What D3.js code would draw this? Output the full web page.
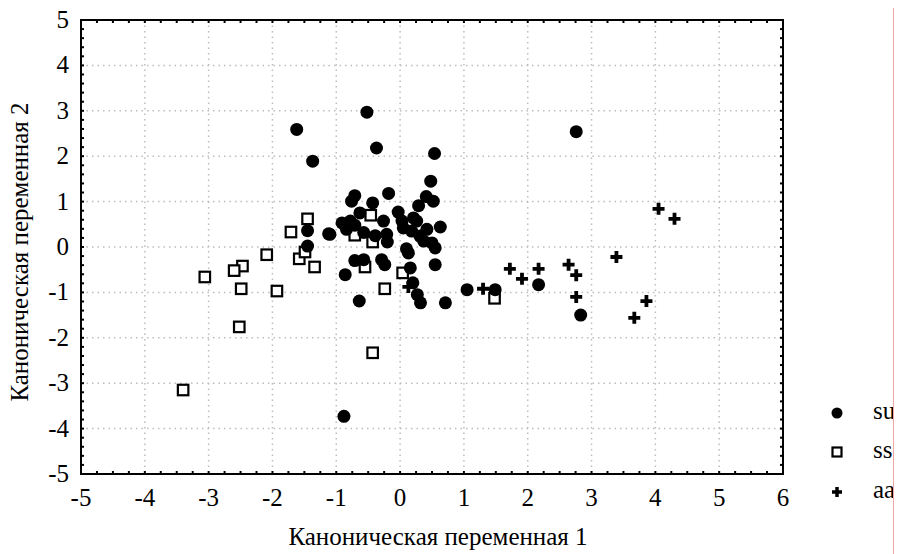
<!DOCTYPE html>
<html>
<head>
<meta charset="utf-8">
<script src="https://cdn.jsdelivr.net/npm/d3@7"></script>
<style>
  body { margin: 0; background: white; }
</style>
</head>
<body>
<script>
/* DATA */
var suX = [-1.62, -0.52, -0.37, -1.37, 0.54, 0.48, -0.18, -0.71, -0.76, -0.43, 0.41, 0.52, 0.29,
           -0.63, -0.03, -0.26, -0.91, -0.78, -1.10, -0.84, -0.39, -0.21, -0.20, 0.03, 0.21, 0.26,
           0.05, 0.18, 0.42, 0.63, 0.31, 0.37, 0.50, 0.55, 0.10, 0.13, -0.71, -0.57, -0.29, -0.24,
           -0.86, 0.16, 0.55, 0.20, -0.64, 0.27, 0.32, 0.71, 1.05, 1.49, -1.45, -1.12, -1.45,
           -0.88, 2.76, 2.17, 2.83, -0.71, -0.84, -0.57];
var suY = [2.59, 2.97, 2.18, 1.89, 2.06, 1.45, 1.18, 1.13, 1.01, 0.97, 1.11, 1.01, 0.91,
           0.75, 0.77, 0.57, 0.53, 0.57, 0.28, 0.39, 0.25, 0.28, 0.11, 0.57, 0.64, 0.57,
           0.42, 0.35, 0.39, 0.44, 0.24, 0.13, 0.09, -0.02, -0.04, -0.13, -0.30, -0.28, -0.28, -0.39,
           -0.61, -0.46, -0.39, -0.79, -1.19, -1.05, -1.23, -1.23, -0.94, -0.94, 0.36, 0.29, 0.02,
           -3.73, 2.54, -0.83, -1.50, 0.48, 0.46, 0.32];

var ssX = [-1.71, -2.09, -1.58, -2.47, -2.60, -3.06, -2.49, -1.93, -2.52, -3.40,
           -1.45, -1.49, -1.34, -0.46, -0.71, -0.43, -0.55, 0.04, -0.24, -0.43, 1.48];
var ssY = [0.33, -0.17, -0.26, -0.42, -0.52, -0.66, -0.92, -0.97, -1.76, -3.15,
           0.62, -0.11, -0.44, 0.70, 0.26, 0.11, -0.44, -0.57, -0.92, -2.33, -1.13];

var aaX = [0.13, 1.30, 1.72, 1.91, 2.17, 2.64, 2.76, 2.76, 3.39, 4.05, 4.30, 3.86, 3.67];
var aaY = [-0.88, -0.92, -0.48, -0.70, -0.48, -0.39, -0.62, -1.10, -0.22, 0.84, 0.62, -1.19, -1.56];

var xTicks = [-5, -4, -3, -2, -1, 0, 1, 2, 3, 4, 5, 6];
var yTicks = [-5, -4, -3, -2, -1, 0, 1, 2, 3, 4, 5];
var legendLabels = ['su', 'ss', 'aa'];
var xTitle = 'Каноническая переменная 1';
var yTitle = 'Каноническая переменная 2';

/* LAYOUT */
var width = 899, height = 554;
var plotLeft = 81, plotRight = 783, plotTop = 20, plotBottom = 474;
var fontFamily = 'Liberation Serif, Times New Roman, serif';
var tickSize = 25;
var titleSize = 25;

var x = d3.scaleLinear().domain([-5, 6]).range([plotLeft, plotRight]);
var y = d3.scaleLinear().domain([-5, 5]).range([plotBottom, plotTop]);

var svg = d3.select('body').append('svg')
    .attr('width', width)
    .attr('height', height)
    .attr('font-family', fontFamily);

svg.append('defs').append('clipPath')
    .attr('id', 'legendClip')
  .append('rect')
    .attr('x', 0).attr('y', 0)
    .attr('width', 893).attr('height', height);

// dotted grid
var grid = svg.append('g').attr('class', 'grid');
grid.selectAll('line.gx')
    .data(xTicks.slice(1, -1))
  .enter().append('line')
    .attr('x1', d => x(d)).attr('x2', d => x(d))
    .attr('y1', plotTop).attr('y2', plotBottom)
    .attr('stroke', '#bdbdbd').attr('stroke-width', 1.5)
    .attr('stroke-dasharray', '1.5,4');
grid.selectAll('line.gy')
    .data(yTicks.slice(1, -1))
  .enter().append('line')
    .attr('y1', d => y(d)).attr('y2', d => y(d))
    .attr('x1', plotLeft).attr('x2', plotRight)
    .attr('stroke', '#bdbdbd').attr('stroke-width', 1.5)
    .attr('stroke-dasharray', '1.5,4');

// inward ticks on all four sides (x minor step 0.25, y minor step 0.2)
var xMinor = d3.range(-5, 6.001, 0.25);
var yMinor = d3.range(-5, 5.001, 0.2);
var ticksG = svg.append('g').attr('stroke', 'black').attr('stroke-width', 2);
xMinor.forEach(function (v) {
  ticksG.append('line').attr('x1', x(v)).attr('x2', x(v)).attr('y1', plotBottom).attr('y2', plotBottom - 3);
  ticksG.append('line').attr('x1', x(v)).attr('x2', x(v)).attr('y1', plotTop).attr('y2', plotTop + 3);
});
yMinor.forEach(function (v) {
  ticksG.append('line').attr('y1', y(v)).attr('y2', y(v)).attr('x1', plotLeft).attr('x2', plotLeft + 3);
  ticksG.append('line').attr('y1', y(v)).attr('y2', y(v)).attr('x1', plotRight).attr('x2', plotRight - 3);
});

// frame
svg.append('rect')
    .attr('x', plotLeft).attr('y', plotTop)
    .attr('width', plotRight - plotLeft).attr('height', plotBottom - plotTop)
    .attr('fill', 'none').attr('stroke', 'black').attr('stroke-width', 2);

// tick labels
svg.append('g').selectAll('text')
    .data(xTicks)
  .enter().append('text')
    .attr('x', d => x(d))
    .attr('y', 506)
    .attr('text-anchor', 'middle')
    .attr('font-size', tickSize)
    .text(d => d);
svg.append('g').selectAll('text')
    .data(yTicks)
  .enter().append('text')
    .attr('x', 69)
    .attr('y', d => y(d) + 8)
    .attr('text-anchor', 'end')
    .attr('font-size', tickSize)
    .text(d => d);

// axis titles
svg.append('text')
    .attr('x', 438).attr('y', 545)
    .attr('text-anchor', 'middle')
    .attr('font-size', titleSize)
    .text(xTitle);
svg.append('text')
    .attr('transform', 'translate(28,' + 252 + ') rotate(-90)')
    .attr('text-anchor', 'middle')
    .attr('font-size', titleSize)
    .text(yTitle);

// marker helpers
var plusPath = s => `M${-s},0H${s}M0,${-s}V${s}`;

function drawCircle(g, cx, cy, r) {
  g.append('circle').attr('cx', cx).attr('cy', cy).attr('r', r).attr('fill', 'black');
}
function drawSquare(g, cx, cy, s) {
  g.append('rect').attr('x', cx - s / 2).attr('y', cy - s / 2)
      .attr('width', s).attr('height', s)
      .attr('fill', 'white').attr('stroke', 'black').attr('stroke-width', 2.2);
}
function drawPlus(g, cx, cy, s, w) {
  g.append('path').attr('d', plusPath(s)).attr('transform', `translate(${cx},${cy})`)
      .attr('fill', 'none').attr('stroke', 'black').attr('stroke-width', w);
}

var pts = svg.append('g').attr('class', 'points');
ssX.forEach((v, i) => drawSquare(pts, x(v), y(ssY[i]), 10.5));
suX.forEach((v, i) => drawCircle(pts, x(v), y(suY[i]), 6.5));
aaX.forEach((v, i) => drawPlus(pts, x(v), y(aaY[i]), 6, 3.8));

// legend (clipped at the right edge like the original)
var legend = svg.append('g').attr('clip-path', 'url(#legendClip)');
var legendY = [413, 452, 492];
drawCircle(legend, 837, legendY[0], 5.5);
drawSquare(legend, 837, legendY[1], 9);
drawPlus(legend, 837, legendY[2], 5, 3.5);
legend.selectAll('text')
    .data(legendLabels)
  .enter().append('text')
    .attr('x', 873)
    .attr('y', (d, i) => legendY[i] + 6)
    .attr('font-size', titleSize)
    .text(d => d);

// thin pink border line at right
svg.append('line')
    .attr('x1', 893.5).attr('x2', 893.5)
    .attr('y1', 8).attr('y2', height)
    .attr('stroke', '#f2a7a7').attr('stroke-width', 1);
</script>
</body>
</html>
